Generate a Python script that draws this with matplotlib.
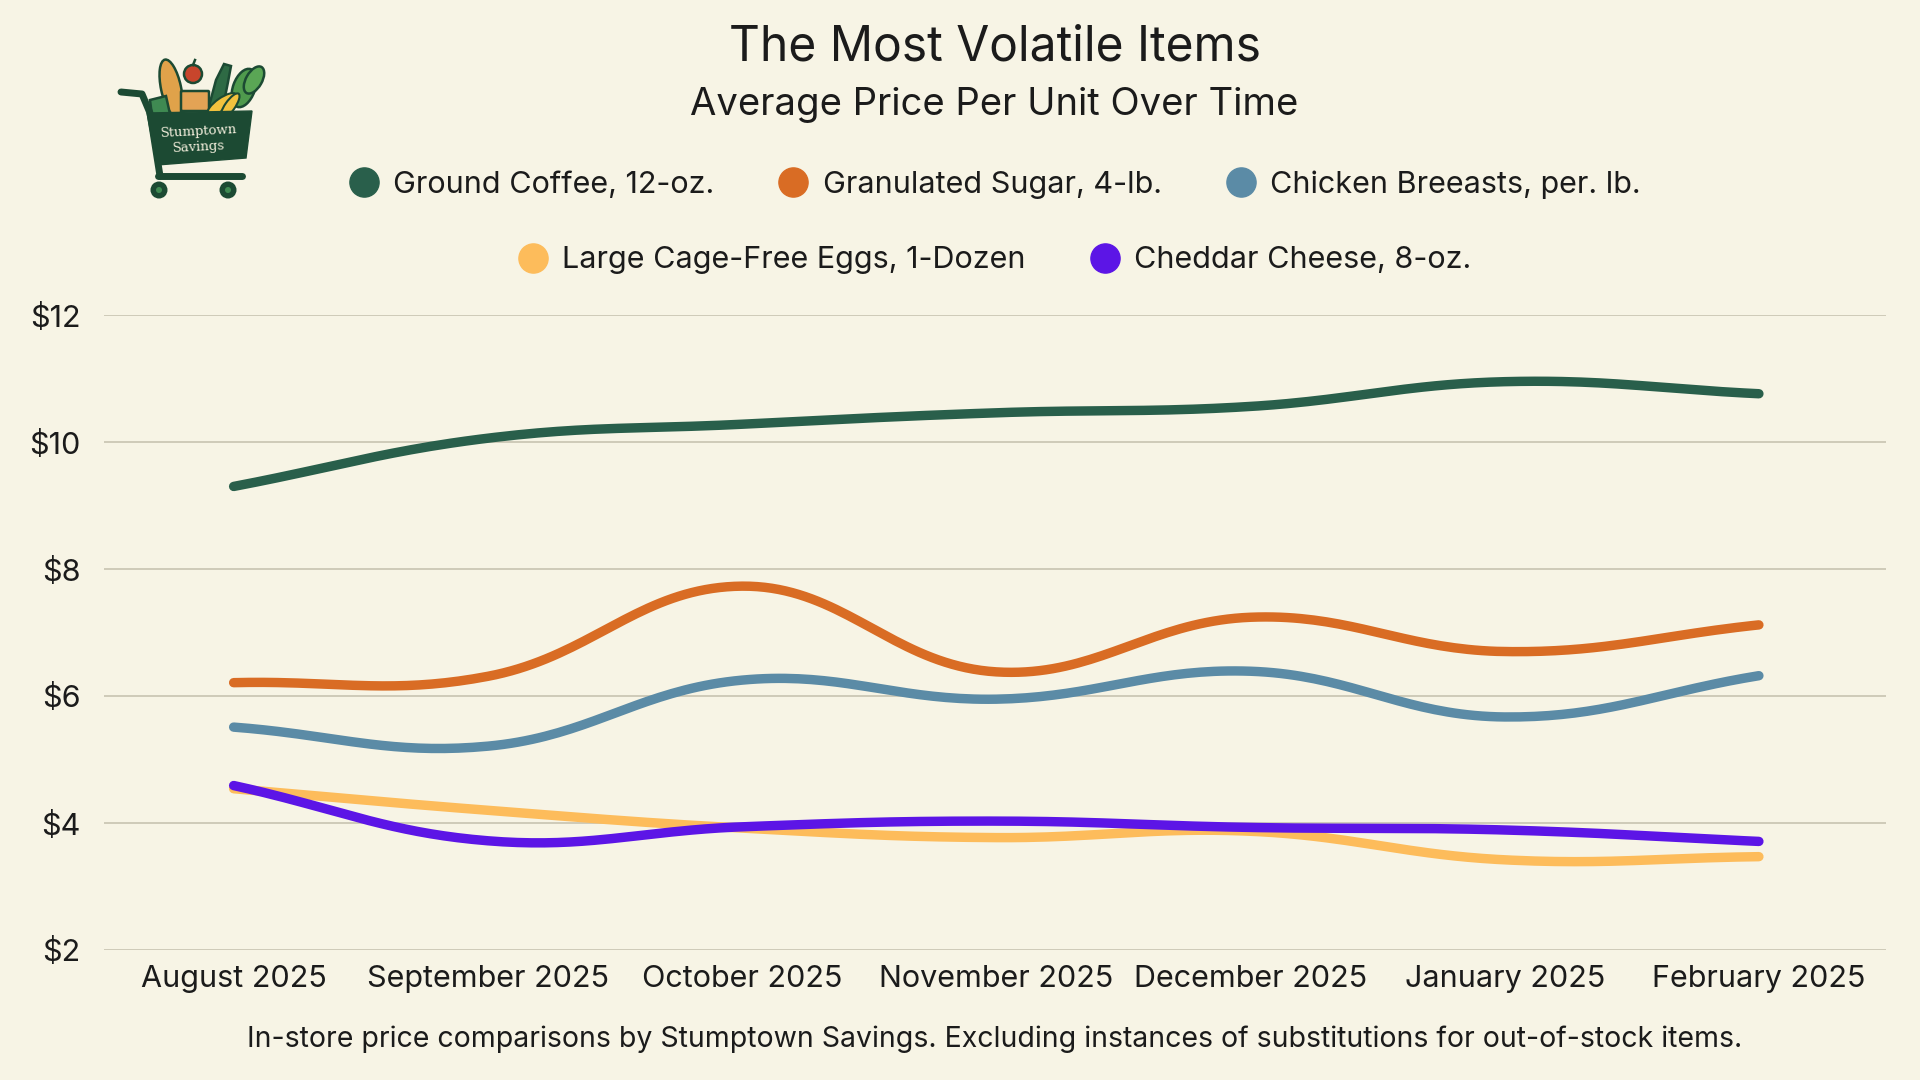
import matplotlib
matplotlib.use("Agg")
import matplotlib.pyplot as plt
from matplotlib.lines import Line2D
from matplotlib.patches import Polygon, Circle, Ellipse, FancyBboxPatch
import numpy as np

months = ["August 2025", "September 2025", "October 2025", "November 2025",
          "December 2025", "January 2025", "February 2025"]
coffee = [9.30, 10.06, 10.28, 10.46, 10.56, 10.95, 10.76]
sugar = [6.21, 6.31, 7.73, 6.38, 7.24, 6.70, 7.12]
chicken = [5.51, 5.21, 6.25, 5.95, 6.39, 5.67, 6.32]
eggs = [4.54, 4.20, 3.92, 3.77, 3.87, 3.42, 3.47]
cheese = [4.59, 3.72, 3.94, 4.03, 3.93, 3.89, 3.71]

series_names = ["Ground Coffee, 12-oz.", "Granulated Sugar, 4-lb.", "Chicken Breeasts, per. lb.",
                "Large Cage-Free Eggs, 1-Dozen", "Cheddar Cheese, 8-oz."]
series_colors = ["#295f4b", "#d96c24", "#5b8ba6", "#fdbc5b", "#5c15e6"]
y_ticks = [2, 4, 6, 8, 10, 12]

BG = "#f7f4e5"
INK = "#1b1b1b"
plt.rcParams["font.family"] = ["Inter", "DejaVu Sans"]

fig = plt.figure(figsize=(19.2, 10.8), dpi=100, facecolor=BG)
ax = fig.add_axes([104 / 1920, 1 - 950 / 1080, (1886 - 104) / 1920, (950 - 315) / 1080])
ax.set_facecolor(BG)
ax.set_xlim(-0.51, 6.5)
ax.set_ylim(2, 12)


def spline(ys, tension=0.4, n=40):
    # smooth curve like chart.js: bezier control points computed in pixel space
    pts = ax.transData.transform(np.column_stack([np.arange(len(ys)), ys]))
    m = len(pts)
    cp_prev = np.zeros_like(pts)
    cp_next = np.zeros_like(pts)
    for i in range(m):
        prev = pts[i - 1] if i > 0 else pts[i]
        nxt = pts[i + 1] if i < m - 1 else pts[i]
        d01 = np.hypot(*(pts[i] - prev))
        d12 = np.hypot(*(nxt - pts[i]))
        tot = d01 + d12
        s01 = d01 / tot if tot else 0
        s12 = d12 / tot if tot else 0
        cp_prev[i] = pts[i] - tension * s01 * (nxt - prev)
        cp_next[i] = pts[i] + tension * s12 * (nxt - prev)
    t = np.linspace(0, 1, n)[:, None]
    out = []
    for i in range(m - 1):
        p0, p1, p2, p3 = pts[i], cp_next[i], cp_prev[i + 1], pts[i + 1]
        seg = ((1 - t) ** 3) * p0 + 3 * ((1 - t) ** 2) * t * p1 + 3 * (1 - t) * t ** 2 * p2 + t ** 3 * p3
        out.append(seg if i == 0 else seg[1:])
    out = np.vstack(out)
    data = ax.transData.inverted().transform(out)
    return data[:, 0], data[:, 1]


all_series = [coffee, sugar, chicken, eggs, cheese]
for idx, vals in enumerate(all_series):
    xs, ys = spline(vals)
    ax.plot(xs, ys, color=series_colors[idx], lw=6.8, solid_capstyle="round",
            solid_joinstyle="round", zorder=3 + idx)

ax.set_yticks(y_ticks)
ax.set_yticklabels(["$%d" % v for v in y_ticks])
ax.set_xticks(range(len(months)))
ax.set_xticklabels(months)
ax.tick_params(axis="both", length=0, labelsize=22, colors=INK)
ax.tick_params(axis="y", pad=17)
ax.tick_params(axis="x", pad=11)
ax.grid(axis="y", color="#c4bfac", lw=1.1)
ax.set_axisbelow(True)
for s in ax.spines.values():
    s.set_visible(False)

fig.text(0.518, 0.956, "The Most Volatile Items", ha="center", va="center", fontsize=34.5, color=INK)
fig.text(0.518, 0.903, "Average Price Per Unit Over Time", ha="center", va="center", fontsize=27.5, color=INK)
fig.text(0.518, 0.038, "In-store price comparisons by Stumptown Savings. "
         "Excluding instances of substitutions for out-of-stock items.",
         ha="center", va="center", fontsize=20.5, color=INK)

handles = [Line2D([], [], ls="", marker="o", ms=21, color=c) for c in series_colors]
for rows, ypos in [((0, 1, 2), 0.829), ((3, 4), 0.759)]:
    fig.legend([handles[i] for i in rows], [series_names[i] for i in rows],
               loc="center", bbox_to_anchor=(0.518, ypos), ncol=len(rows), frameon=False,
               fontsize=22, handlelength=1.0, handletextpad=0.45, columnspacing=2.1,
               labelcolor=INK)

# logo: little grocery cart, drawn in pixel units
lg = fig.add_axes([110 / 1920, 1 - 205 / 1080, 160 / 1920, 155 / 1080])
lg.set_xlim(110, 270)
lg.set_ylim(205, 50)
lg.axis("off")
dk = "#1c4a33"
# produce
lg.add_patch(Ellipse((171, 88), 20, 58, angle=-12, fc="#e0a24a", ec=dk, lw=1.8, zorder=2))
lg.add_patch(Circle((193, 74), 9, fc="#c8452c", ec=dk, lw=1.8, zorder=2))
lg.plot([193, 195], [65, 60], color=dk, lw=1.8, zorder=3)
lg.add_patch(Polygon([[224, 64], [231, 66], [228, 82], [222, 112], [208, 110], [216, 80]],
                     fc="#2e6a44", ec=dk, lw=1.8, zorder=2))
lg.add_patch(FancyBboxPatch((182, 92), 26, 18, boxstyle="round,pad=1", fc="#e3a355", ec=dk, lw=1.8, zorder=2))
lg.add_patch(Polygon([[150, 100], [166, 96], [170, 114], [152, 116]], fc="#3f8a52", ec=dk, lw=1.8, zorder=2))
lg.add_patch(Ellipse((244, 88), 22, 40, angle=20, fc="#4f9a4d", ec=dk, lw=1.8, zorder=2))
lg.add_patch(Ellipse((254, 80), 16, 30, angle=30, fc="#5aa655", ec=dk, lw=1.8, zorder=2))
lg.add_patch(Ellipse((222, 104), 34, 12, angle=-35, fc="#f2c23e", ec=dk, lw=1.5, zorder=3))
lg.add_patch(Ellipse((230, 106), 30, 10, angle=-55, fc="#f2c23e", ec=dk, lw=1.5, zorder=3))
# basket
lg.add_patch(Polygon([[147, 113], [252, 111], [246, 158], [157, 165]], fc=dk, ec=dk, lw=1, zorder=4))
lg.plot([121, 142, 150, 160], [92, 94, 113, 176], color=dk, lw=5, solid_capstyle="round", zorder=4)
lg.plot([158, 242], [176, 176], color=dk, lw=5, solid_capstyle="round", zorder=4)
for cx in (159, 228):
    lg.add_patch(Circle((cx, 190), 8.5, fc=dk, zorder=4))
    lg.add_patch(Circle((cx, 190), 3, fc="#3f8a52", zorder=5))
lg.text(199, 132, "Stumptown", ha="center", va="center", fontsize=9.5, family="DejaVu Serif",
        color="#f2eedc", rotation=3, zorder=6)
lg.text(199, 147, "Savings", ha="center", va="center", fontsize=9.5, family="DejaVu Serif",
        color="#f2eedc", rotation=3, zorder=6)

fig.savefig("out.png", dpi=100, facecolor=BG)
